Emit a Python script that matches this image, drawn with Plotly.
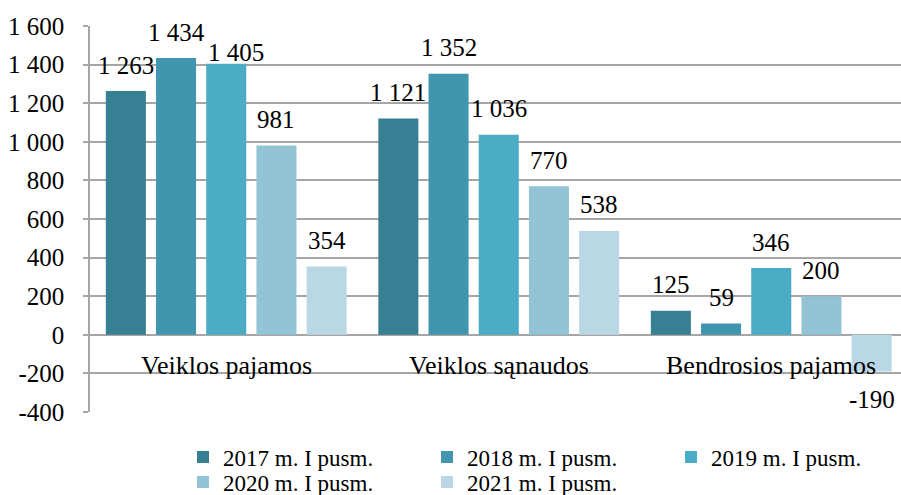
import plotly.graph_objects as go

categories = ["Veiklos pajamos", "Veiklos sąnaudos", "Bendrosios pajamos"]
series_names = ["2017 m. I pusm.", "2018 m. I pusm.", "2019 m. I pusm.",
                "2020 m. I pusm.", "2021 m. I pusm."]
values_2017 = [1263, 1121, 125]
values_2018 = [1434, 1352, 59]
values_2019 = [1405, 1036, 346]
values_2020 = [981, 770, 200]
values_2021 = [354, 538, -190]
tick_values = [-400, -200, 0, 200, 400, 600, 800, 1000, 1200, 1400, 1600]
tick_labels = ["-400", "-200", "0", "200", "400", "600", "800",
               "1 000", "1 200", "1 400", "1 600"]

series_values = [values_2017, values_2018, values_2019, values_2020, values_2021]
colors = ["#377F92", "#4096AE", "#4BACC6", "#93C4D6", "#B9D7E4"]
legend_ids = ["legend", "legend", "legend", "legend2", "legend2"]

FONT = "Liberation Serif"
FS_TICK = 25
FS_LABEL = 25
FS_CAT = 26
FS_LEG = 23
bar_w = 0.147
pitch = 0.1842

def fmt(v):
    s = f"{abs(v):,}".replace(",", " ")
    return ("-" if v < 0 else "") + s

fig = go.Figure()
xs = list(range(len(categories)))
annotations = []
for k, (name, vals, col, lg) in enumerate(zip(series_names, series_values, colors, legend_ids)):
    off = (k - 2) * pitch - bar_w / 2
    fig.add_trace(go.Bar(
        x=xs, y=vals, name=name, width=bar_w, offset=off,
        marker=dict(color=col, line=dict(width=0)),
        hoverinfo="skip", legend=lg,
    ))
    for i, v in enumerate(vals):
        nudge_x, nudge_y = 0, 0
        if name == "2019 m. I pusm." and i == 0:
            nudge_x, nudge_y = 10, -15
        annotations.append(dict(
            x=i + off + bar_w / 2, y=v, xref="x", yref="y",
            text=fmt(v), showarrow=False,
            yanchor="middle", xanchor="center",
            xshift=nudge_x,
            yshift=(26 if v >= 0 else -28) + nudge_y,
            font=dict(family=FONT, size=FS_LABEL, color="#000000"),
        ))

for i, c in enumerate(categories):
    annotations.append(dict(
        x=i, y=0, xref="x", yref="y", text=c, showarrow=False,
        yanchor="middle", xanchor="center", yshift=-31,
        font=dict(family=FONT, size=FS_CAT, color="#000000"),
    ))

W, H = 901, 495
ml, mr, mt, mb = 90, 0, 26, 83
plot_w = W - ml - mr
cat_px = 272.5
x_max = -0.5 + plot_w / cat_px

leg_common = dict(orientation="h", xanchor="left", yanchor="middle",
                  xref="container", yref="container",
                  entrywidth=199, entrywidthmode="pixels",
                  font=dict(family=FONT, size=FS_LEG, color="#000000"),
                  bgcolor="rgba(0,0,0,0)", traceorder="normal", itemwidth=30)

fig.update_layout(
    width=W, height=H,
    margin=dict(l=ml, r=mr, t=mt, b=mb, pad=0, autoexpand=False),
    paper_bgcolor="white", plot_bgcolor="white",
    font=dict(family=FONT, size=FS_TICK, color="#000000"),
    showlegend=True,
    barmode="overlay",
    annotations=annotations,
    xaxis=dict(range=[-0.5, x_max], showticklabels=False, showgrid=False,
               zeroline=False, showline=False, ticks="", fixedrange=True),
    yaxis=dict(range=[-400, 1600], tickvals=tick_values, ticktext=tick_labels,
               showgrid=True, gridcolor="#A6A6A6", gridwidth=1.5,
               zeroline=True, zerolinecolor="#A6A6A6", zerolinewidth=1.5,
               showline=True, linecolor="#A6A6A6", linewidth=1.5,
               ticks="outside", ticklen=5, tickcolor="#A6A6A6", tickwidth=1.5,
               ticklabelstandoff=14,
               tickfont=dict(family=FONT, size=FS_TICK, color="#000000"),
               fixedrange=True),
    legend=dict(x=183 / W, y=1 - 457 / H, **leg_common),
    legend2=dict(x=183 / W, y=1 - 482 / H, **leg_common),
)

fig.write_html("out.html", config={"displayModeBar": False},
               post_script="document.body.style.margin='0';document.body.style.overflow='hidden';")
